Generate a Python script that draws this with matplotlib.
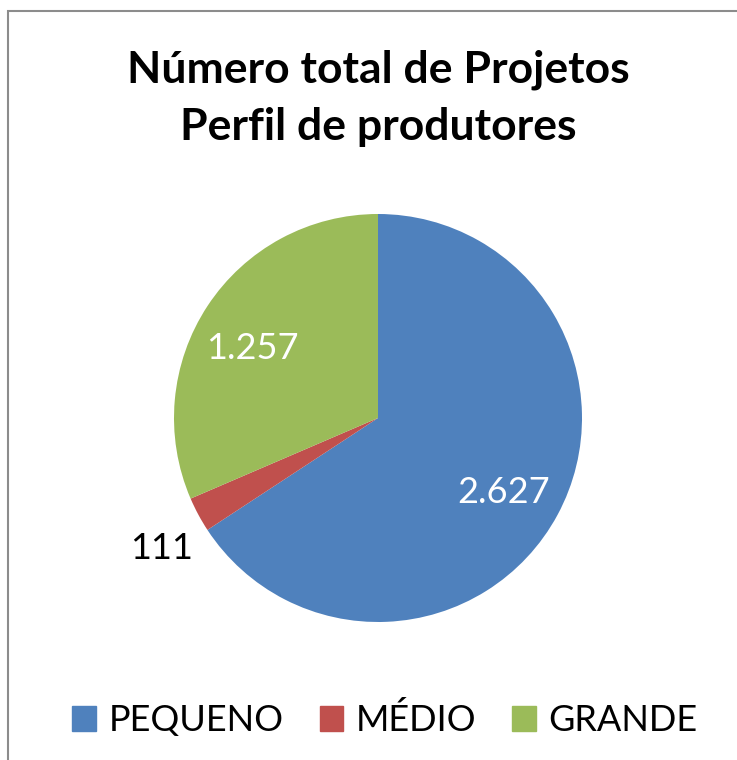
import numpy as np
import matplotlib.pyplot as plt
from matplotlib.patches import Rectangle
from matplotlib.transforms import offset_copy

categories = ["PEQUENO", "MÉDIO", "GRANDE"]
values = [2627, 111, 1257]
value_labels = ["2.627", "111", "1.257"]
colors = ["#4F81BD", "#C0504D", "#9BBB59"]

W, H = 737, 760
fig = plt.figure(figsize=(W / 100, H / 100), dpi=100)
fam = ["Lato", "DejaVu Sans"]

# chart border (only left and top show in the crop)
fig.patches.append(Rectangle((8 / W, -0.05), 2, 1 - 11 / H + 0.05, transform=fig.transFigure,
                             fill=False, edgecolor="#8c8c8c", linewidth=1.5))

fig.text(378 / W, 1 - 82 / H, "Número total de Projetos", ha="center", va="baseline",
         fontsize=32, fontweight="bold", family=fam)
fig.text(378 / W, 1 - 140 / H, "Perfil de produtores", ha="center", va="baseline",
         fontsize=32, fontweight="bold", family=fam)

cx, cy, r = 378, 418, 204
ax = fig.add_axes([(cx - r) / W, (H - cy - r) / H, 2 * r / W, 2 * r / H])
wedges, _ = ax.pie(values, colors=colors, startangle=90, counterclock=False,
                   wedgeprops=dict(linewidth=0))
ax.set_xlim(-1, 1)
ax.set_ylim(-1, 1)
ax.set_aspect("auto")
ax.axis("off")

# label distance / angle nudge, like excel's placement
dists = [0.707, 1.23, 0.714]
nudge = [-1.5, 2.2, 3.3]
tcols = ["white", "black", "white"]
trans = offset_copy(ax.transData, fig=fig, x=0, y=-3, units="dots")
for w, lab, d, n, c in zip(wedges, value_labels, dists, nudge, tcols):
    ang = np.deg2rad((w.theta1 + w.theta2) / 2 + n)
    ax.text(d * np.cos(ang), d * np.sin(ang), lab, ha="center", va="center",
            fontsize=26, color=c, family=fam, clip_on=False, transform=trans)

handles = [Rectangle((0, 0), 1, 1, color=c) for c in colors]
fig.legend(handles, categories, loc="center", bbox_to_anchor=(385 / W, 1 - 720 / H),
           ncol=3, frameon=False, handlelength=0.65, handleheight=0.72,
           handletextpad=0.35, columnspacing=1.0, prop=dict(family=fam, size=26))

fig.savefig("out.png", dpi=100)
